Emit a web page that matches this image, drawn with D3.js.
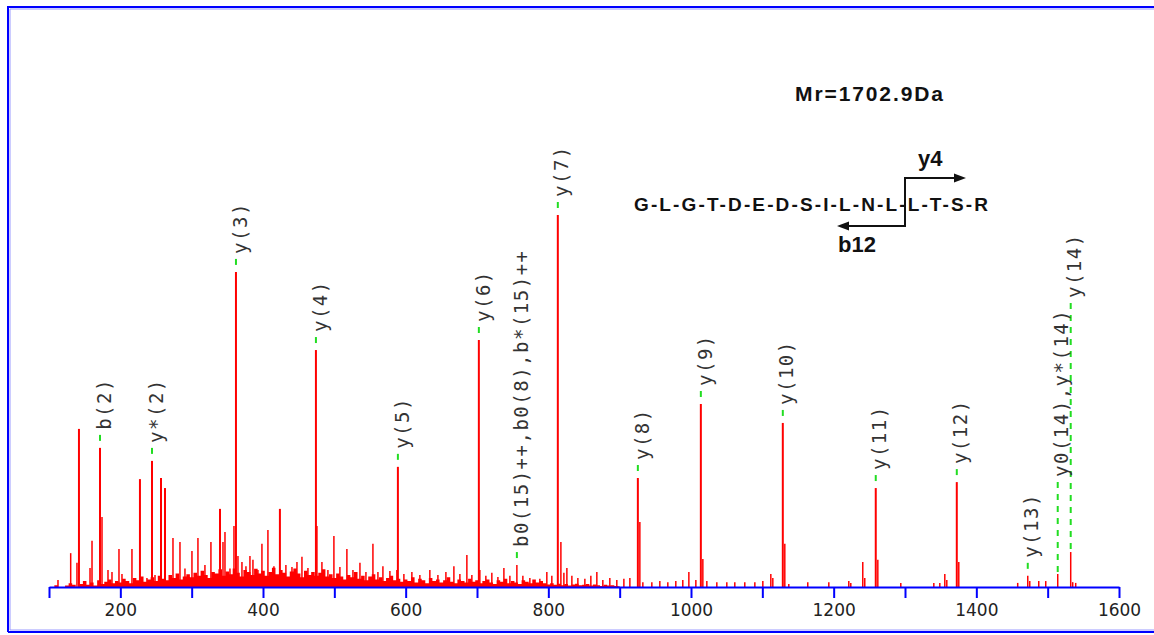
<!DOCTYPE html>
<html>
<head>
<meta charset="utf-8">
<script src="https://cdn.jsdelivr.net/npm/d3@7"></script>
<style>
  body { margin: 0; background: #fff; }
  svg { display: block; }
</style>
</head>
<body>
<div id="chart"></div>
<script>
// discrete peaks (m/z, relative intensity %)
const peakMz = [
  112.6, 130.4, 139.2, 142.0, 157.5, 160.3, 171.5, 174.3, 182.7, 188.3,
  198.1, 202.3, 216.3, 219.1, 227.5, 237.3, 244.4, 248.6, 257.0, 262.6,
  273.8, 283.6, 290.6, 300.4, 308.8, 318.6, 327.0, 339.7, 343.9, 346.7,
  353.7, 359.3, 362.1, 364.9, 370.5, 376.1, 381.7, 385.9, 392.9, 398.5,
  406.9, 415.3, 423.7, 432.1, 440.6, 447.6, 454.6, 463.0, 474.2, 475.6,
  482.6, 491.0, 499.4, 507.8, 517.6, 526.1, 535.9, 544.3, 554.1, 561.1,
  568.1, 577.9, 587.7, 589.1, 597.5, 608.7, 619.9, 633.9, 645.2, 656.4,
  667.6, 676.0, 685.8, 692.8, 702.6, 704.0, 712.4, 720.8, 729.3, 737.7,
  746.1, 755.9, 764.3, 774.1, 788.1, 797.9, 804.9, 813.3, 817.6, 821.8,
  826.0, 833.0, 841.4, 851.2, 859.6, 868.0, 876.4, 886.2, 896.0, 905.9,
  914.3, 925.5, 928.3, 932.5, 945.1, 956.3, 967.5, 978.7, 988.5, 997.0,
  1006.8, 1013.8, 1016.6, 1022.2, 1036.2, 1050.2, 1061.4, 1075.4, 1089.5, 1100.7,
  1111.9, 1114.7, 1128.7, 1131.5, 1137.1, 1163.7, 1193.2, 1221.2, 1224.0, 1240.8,
  1243.6, 1259.0, 1261.9, 1294.1, 1340.4, 1348.8, 1355.8, 1358.6, 1372.6, 1375.4,
  1458.0, 1472.1, 1474.9, 1487.5, 1497.3, 1514.1, 1532.3, 1535.1, 1539.3
];
const peakInt = [
  1.9, 9.1, 6.5, 42.5, 5.1, 12.4, 37.4, 18.8, 4.6, 4.0,
  10.2, 3.5, 10.2, 2.4, 29.0, 2.4, 33.9, 3.2, 29.3, 26.6,
  13.2, 12.1, 5.0, 9.7, 13.2, 5.9, 12.1, 21.0, 12.1, 14.8,
  5.0, 16.4, 84.7, 8.3, 6.7, 5.6, 8.3, 7.3, 4.6, 11.6,
  15.3, 5.6, 21.0, 5.9, 5.4, 6.7, 8.1, 5.1, 63.7, 16.4,
  6.7, 4.6, 13.7, 5.4, 10.2, 4.6, 6.5, 4.0, 11.6, 4.0,
  5.6, 4.3, 4.6, 32.3, 3.5, 4.0, 3.2, 4.6, 3.2, 4.0,
  5.6, 3.5, 8.6, 3.2, 66.4, 4.6, 3.0, 3.8, 2.7, 5.1,
  3.0, 5.9, 3.0, 2.4, 2.2, 4.0, 3.0, 100, 12.1, 3.8,
  5.1, 3.0, 2.4, 2.2, 3.0, 4.0, 1.9, 2.4, 1.9, 2.2,
  2.4, 29.3, 17.5, 1.3, 1.3, 1.6, 1.3, 1.6, 1.9, 4.0,
  1.9, 49.2, 7.5, 1.6, 1.3, 1.3, 1.3, 1.3, 1.3, 1.6,
  3.5, 2.4, 44.1, 11.6, 0.8, 1.3, 1.3, 1.6, 1.1, 6.7,
  2.4, 26.6, 7.3, 1.1, 1.1, 1.1, 3.5, 1.9, 28.2, 6.7,
  1.1, 3.0, 1.6, 1.6, 1.6, 3.5, 9.4, 1.3, 1.1
];

// dense low-level noise under the peaks, every 5 m/z from 100 to 900
const floorStart = 100;
const floorStep = 5;
const floorInt = [
  0, 0, 0.5, 0, 0, 0.4, 1.0, 0.6, 0, 0.8, 1.6, 0.6, 1.2, 0.4, 1.8, 0.8, 1.4, 2.0, 1.0, 1.6,
  1.2, 2.2, 1.6, 1.0, 2.4, 1.8, 2.8, 1.4, 2.0, 2.6, 1.6, 3.0, 2.2, 1.8, 3.2, 2.4, 3.6, 2.0, 2.8, 3.4,
  2.6, 3.8, 3.0, 4.4, 3.2, 2.4, 4.0, 3.6, 4.8, 3.0, 4.2, 3.4, 5.0, 3.8, 2.8, 4.6, 4.0, 3.2, 4.9, 3.6,
  4.4, 3.0, 4.0, 5.2, 3.4, 4.6, 3.8, 2.8, 4.2, 5.0, 3.6, 2.6, 4.4, 3.2, 4.0, 3.0, 3.8, 4.8, 2.8, 3.4,
  2.4, 3.6, 2.8, 2.0, 3.2, 2.6, 4.0, 2.2, 3.0, 1.8, 2.8, 3.4, 2.0, 2.6, 1.6, 2.4, 3.0, 1.8, 2.2, 1.4,
  2.0, 1.6, 2.6, 1.2, 2.2, 1.8, 1.0, 2.4, 1.6, 2.0, 1.2, 1.8, 2.6, 1.4, 1.0, 2.0, 1.6, 1.2, 2.2, 1.4,
  1.8, 1.0, 1.6, 2.0, 1.2, 0.8, 1.8, 1.4, 2.2, 1.0, 1.6, 1.2, 0.8, 1.8, 1.4, 1.0, 2.0, 1.2, 1.6, 1.0,
  0.7, 1.0, 0.6, 0.9, 0.5, 0.8, 0.4, 0.7, 0.9, 0.5, 0.6, 0.8, 0.4, 0.7, 0.5, 0.3, 0.6, 0.4, 0.5, 0.3,
  0.2
];

// assigned fragment ions
const ionLabels = [
  "b(2)", "y*(2)", "y(3)", "y(4)", "y(5)", "y(6)", "b0(15)++,b0(8),b*(15)++",
  "y(7)", "y(8)", "y(9)", "y(10)", "y(11)", "y(12)", "y(13)", "y0(14),y*(14)", "y(14)"
];
const ionMz = [
  171.5, 244.4, 362.1, 474.2, 589.1, 702.6, 755.9,
  813.3, 925.5, 1013.8, 1128.7, 1259.0, 1372.6, 1472.1, 1514.1, 1532.3
];

const tickValues = d3.range(100, 1601, 100);
const tickLabels = ["", "200", "", "400", "", "600", "", "800", "", "1000", "", "1200", "", "1400", "", "1600"];

const massText = "Mr=1702.9Da";
const sequenceText = "G-L-G-T-D-E-D-S-I-L-N-L-L-T-S-R";
const yIonText = "y4";
const bIonText = "b12";

const width = 1154;
const height = 635;
const red = "#ff0000";
const green = "#22dd22";
const blue = "#0000ff";

const x = d3.scaleLinear([100, 1600], [49, 1119]);
const y = d3.scaleLinear([0, 100], [587, 215]);

const svg = d3.create("svg")
    .attr("width", width)
    .attr("height", height);

// frame
const frame = svg.append("g");
frame.append("path")
    .attr("d", "M8,632 V7 H1154")
    .attr("fill", "none").attr("stroke", blue).attr("stroke-width", 2);
frame.append("path")
    .attr("d", "M10,630 V9 H1154")
    .attr("fill", "none").attr("stroke", "#9999ff").attr("stroke-width", 1);
frame.append("line")
    .attr("x1", 8).attr("x2", 1154).attr("y1", 632).attr("y2", 632)
    .attr("stroke", blue).attr("stroke-width", 2);
frame.append("line")
    .attr("x1", 10).attr("x2", 1154).attr("y1", 630).attr("y2", 630)
    .attr("stroke", "#9999ff").attr("stroke-width", 1);

// noise floor
const floorData = floorInt.map((v, i) => ({ mz: floorStart + i * floorStep, v }));
const floorArea = d3.area()
    .x(d => x(d.mz))
    .y0(y(0))
    .y1(d => y(d.v))
    .curve(d3.curveStep);
svg.append("path")
    .datum(floorData)
    .attr("d", floorArea)
    .attr("fill", red);

// peaks
const peaks = peakMz.map((mz, i) => ({ mz, v: peakInt[i] }));
svg.append("g")
    .selectAll("line")
    .data(peaks)
    .join("line")
    .attr("x1", d => x(d.mz))
    .attr("x2", d => x(d.mz))
    .attr("y1", y(0))
    .attr("y2", d => y(d.v))
    .attr("stroke", red)
    .attr("stroke-width", d => d.v > 20 ? 2 : 1.5);

// ion labels: a few are lifted so they don't collide
const labelLift = { "y0(14),y*(14)": 79, "y(14)": 236 };
const ions = ionLabels.map((label, i) => {
    const p = peaks.find(d => Math.abs(d.mz - ionMz[i]) < 0.05);
    const top = y(p.v);
    return { label, mz: ionMz[i], top, base: top - 18 - (labelLift[label] || 0) };
});

const ionG = svg.append("g");
ionG.selectAll("line")
    .data(ions)
    .join("line")
    .attr("x1", d => x(d.mz))
    .attr("x2", d => x(d.mz))
    .attr("y1", d => d.base + 5)
    .attr("y2", d => d.top - 1)
    .attr("stroke", green)
    .attr("stroke-width", 2)
    .attr("stroke-dasharray", "6,6");

ionG.selectAll("text")
    .data(ions)
    .join("text")
    .attr("transform", d => `translate(${x(d.mz) + 4},${d.base}) rotate(-90)`)
    .attr("dy", "0.35em")
    .attr("font-family", "'DejaVu Sans Mono', monospace")
    .attr("font-size", 19)
    .attr("letter-spacing", 1.5)
    .attr("fill", "#333")
    .text(d => d.label);

// x axis
const axis = d3.axisBottom(x)
    .tickValues(tickValues)
    .tickFormat((d, i) => tickLabels[i])
    .tickSize(11)
    .tickSizeOuter(0);
const axisG = svg.append("g")
    .attr("transform", `translate(0,${y(0)})`)
    .call(axis);
axisG.select(".domain").attr("stroke", blue).attr("stroke-width", 2);
axisG.selectAll(".tick line").attr("stroke", blue).attr("stroke-width", 2);
axisG.selectAll(".tick text")
    .attr("y", 17)
    .attr("font-family", "'DejaVu Sans', sans-serif")
    .attr("font-size", 17)
    .attr("fill", "#222");

// peptide annotation
const note = svg.append("g")
    .attr("font-family", "'Liberation Sans', Arial, sans-serif")
    .attr("font-weight", "bold")
    .attr("fill", "#111");
note.append("text")
    .attr("x", 795).attr("y", 101)
    .attr("font-size", 21)
    .attr("textLength", 148).attr("lengthAdjust", "spacing")
    .text(massText);
note.append("text")
    .attr("x", 634).attr("y", 211)
    .attr("font-size", 19)
    .attr("textLength", 354).attr("lengthAdjust", "spacing")
    .text(sequenceText);
note.append("text")
    .attr("x", 918).attr("y", 166)
    .attr("font-size", 22)
    .text(yIonText);
note.append("text")
    .attr("x", 838).attr("y", 252)
    .attr("font-size", 22)
    .text(bIonText);

note.append("path")
    .attr("d", "M955,178 H905 V226 H848")
    .attr("fill", "none").attr("stroke", "#111").attr("stroke-width", 2);
note.append("path")
    .attr("d", "M966,178 L954,173.5 L954,182.5 Z")
    .attr("fill", "#111");
note.append("path")
    .attr("d", "M837,226 L849,221.5 L849,230.5 Z")
    .attr("fill", "#111");

d3.select("#chart").node().append(svg.node());
</script>
</body>
</html>
